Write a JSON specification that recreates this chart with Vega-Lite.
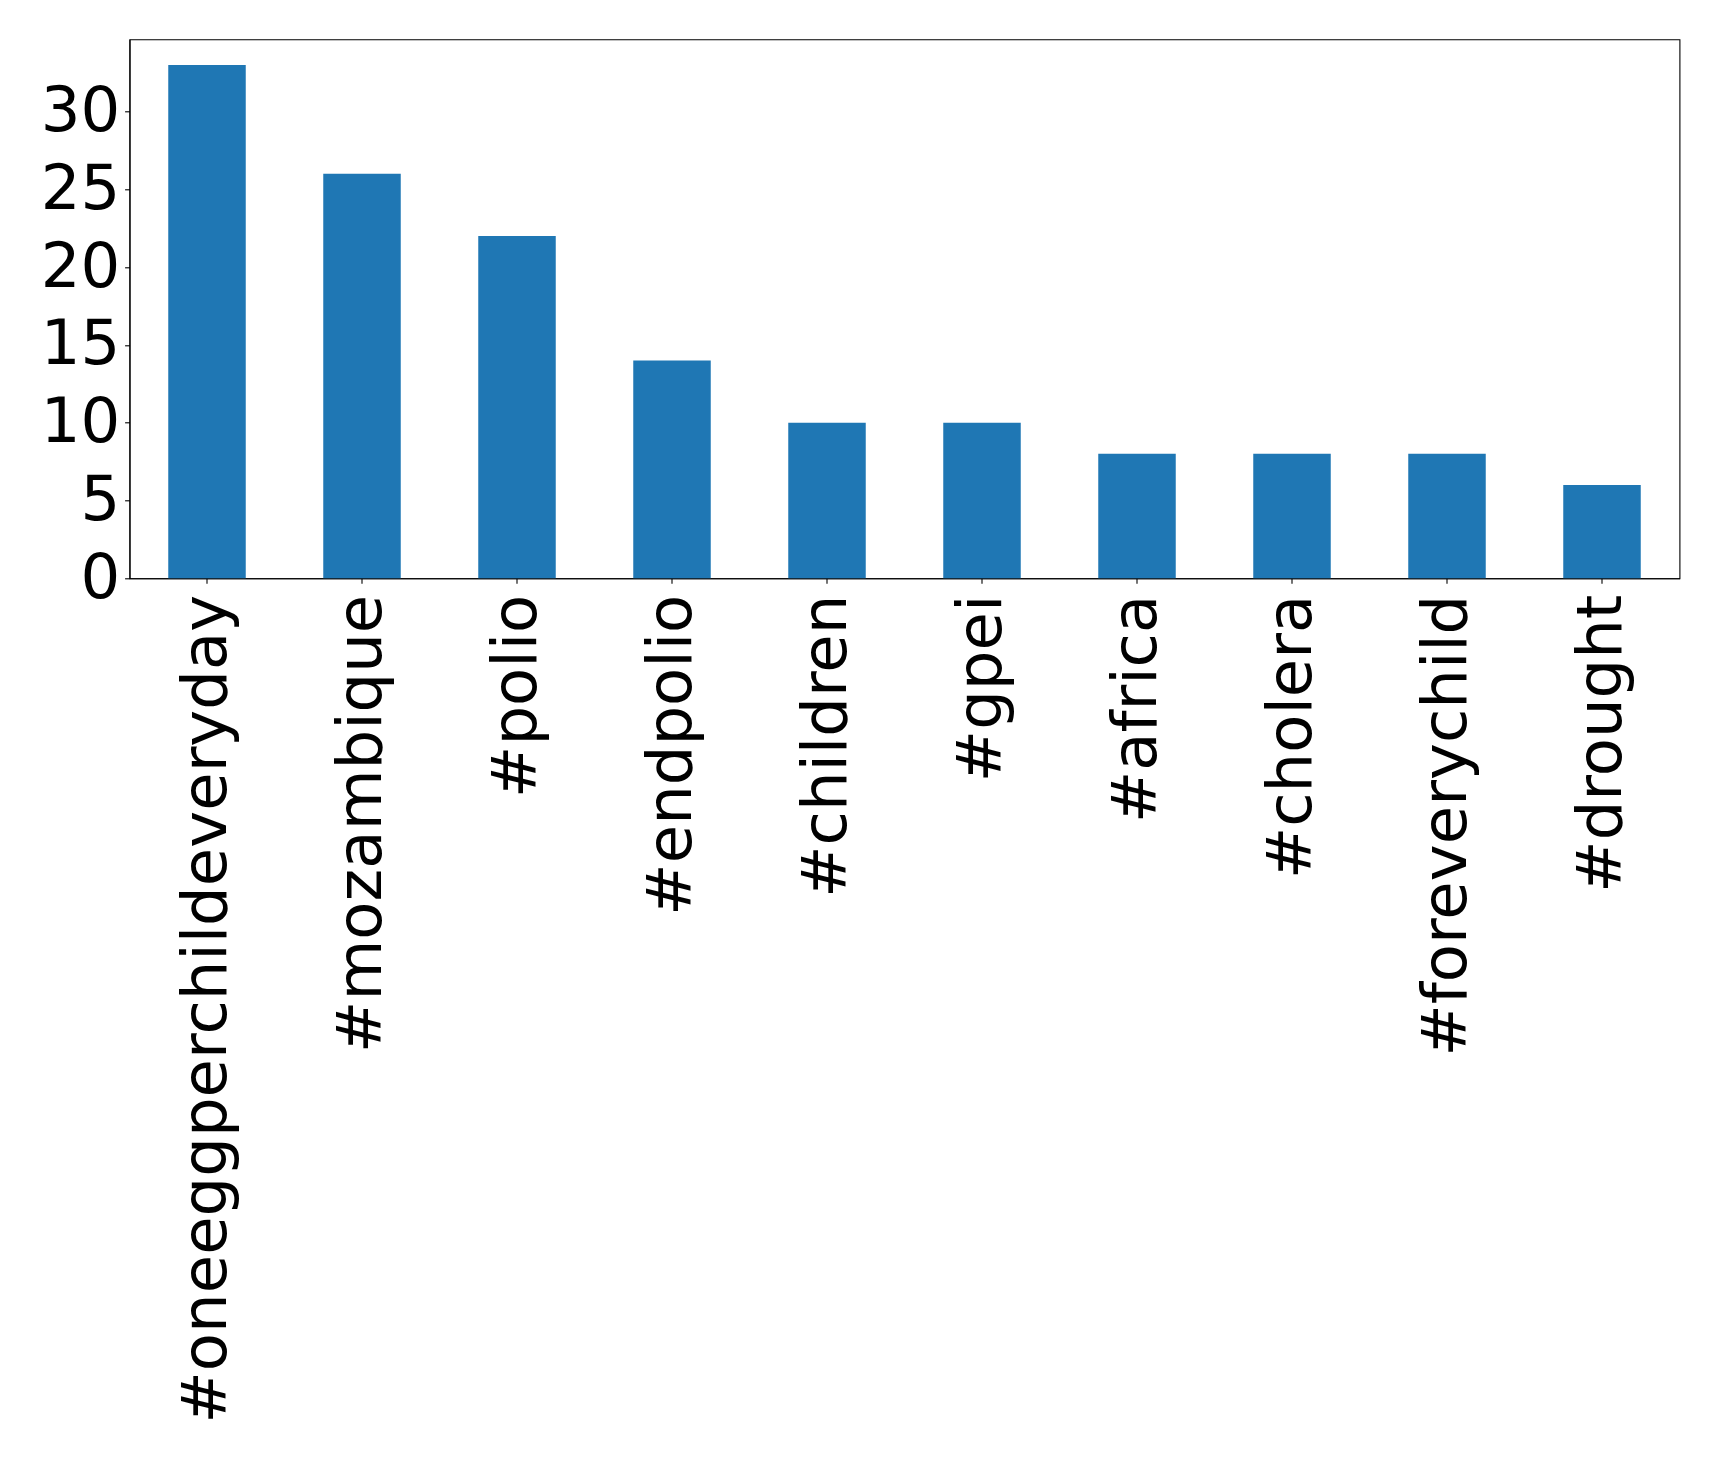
{
  "$schema": "https://vega.github.io/schema/vega-lite/v6.json",
  "width": 1550,
  "height": 539,
  "autosize": {"type": "none"},
  "padding": {"left": 129.5, "top": 39.3, "right": 39.5, "bottom": 878.7},
  "background": "white",
  "config": {
    "view": {"stroke": "black", "strokeWidth": 1.1},
    "font": "DejaVu Sans"
  },
  "data": {
    "values": [
      {"tag": "#oneeggperchildeveryday", "count": 33},
      {"tag": "#mozambique", "count": 26},
      {"tag": "#polio", "count": 22},
      {"tag": "#endpolio", "count": 14},
      {"tag": "#children", "count": 10},
      {"tag": "#gpei", "count": 10},
      {"tag": "#africa", "count": 8},
      {"tag": "#cholera", "count": 8},
      {"tag": "#foreverychild", "count": 8},
      {"tag": "#drought", "count": 6}
    ]
  },
  "mark": {"type": "bar", "color": "#1f77b4"},
  "encoding": {
    "x": {
      "field": "tag",
      "type": "nominal",
      "sort": null,
      "title": null,
      "scale": {"paddingInner": 0.5, "paddingOuter": 0.25},
      "axis": {
        "labelAngle": -90,
        "labelFont": "DejaVu Sans",
        "labelFontSize": 62.5,
        "labelColor": "black",
        "labelPadding": 11,
        "tickSize": 4.9,
        "tickColor": "black",
        "tickWidth": 1.1,
        "domainColor": "black",
        "domainWidth": 1.1,
        "grid": false,
        "labelLimit": 0
      }
    },
    "y": {
      "field": "count",
      "type": "quantitative",
      "title": null,
      "scale": {"domain": [0, 34.65], "nice": false},
      "axis": {
        "values": [0, 5, 10, 15, 20, 25, 30],
        "labelFont": "DejaVu Sans",
        "labelFontSize": 62.5,
        "labelColor": "black",
        "labelPadding": 4.9,
        "tickSize": 4.9,
        "tickColor": "black",
        "tickWidth": 1.1,
        "domainColor": "black",
        "domainWidth": 1.1,
        "grid": false,
        "labelFlush": false
      }
    }
  }
}
